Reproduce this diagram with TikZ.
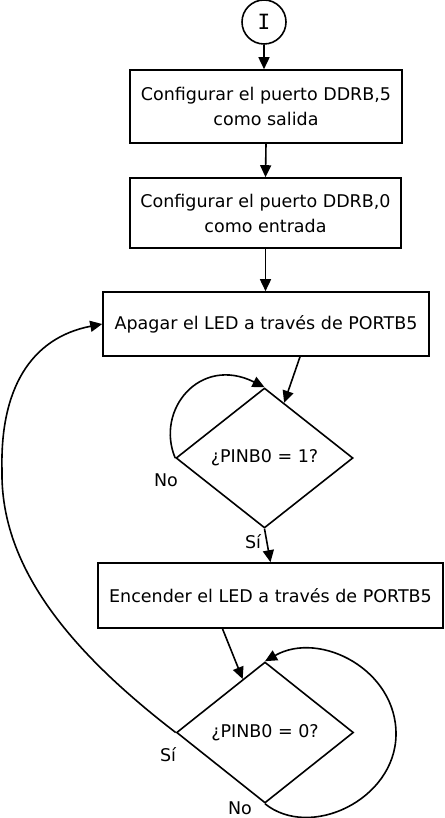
\documentclass[tikz,border=0pt]{standalone}
\usepackage{fontspec}
\setmainfont{DejaVu Sans}
\newfontfamily\startfont{DejaVu Sans Mono}
\usetikzlibrary{shapes.geometric,arrows.meta,calc}
\begin{document}
\begin{tikzpicture}[x=1pt,y=-1pt,
  every node/.style={font=\fontsize{17.5}{25}\selectfont},
  box/.style={draw, line width=1.6pt, align=center, inner sep=0pt},
  dec/.style={draw, diamond, line width=1.6pt, inner sep=0pt, minimum width=177pt, minimum height=140pt},
  arr/.style={line width=1.6pt, -{Triangle[length=12pt,width=11pt]}},
  lbl/.style={inner sep=0pt}]
\useasboundingbox (0,0) rectangle (444,818);
\node[draw, circle, line width=1.6pt, minimum size=44pt, inner sep=0pt, font=\startfont\fontsize{21}{21}\selectfont] (I) at (264,22) {I};
\node[box, minimum width=272pt, minimum height=73pt] (b1) at (266,106.5) {Configurar el puerto DDRB,5\\como salida};
\node[box, minimum width=271pt, minimum height=70pt] (b2) at (265.5,213) {Configurar el puerto DDRB,0\\como entrada};
\node[box, minimum width=326pt, minimum height=64pt] (b3) at (266,324) {Apagar el LED a través de PORTB5};
\node[dec] (d1) at (264.5,458) {¿PINB0 = 1?};
\node[box, minimum width=345pt, minimum height=65pt] (b4) at (270.5,595.5) {Encender el LED a través de PORTB5};
\node[dec, minimum height=141pt] (d2) at (265,732.5) {¿PINB0 = 0?};
\node[lbl] (n1) at (166,480) {No};
\node[lbl] (s1) at (253,542) {Sí};
\node[lbl] (s2) at (168,755) {Sí};
\node[lbl] (n2) at (240,808) {No};
\draw[arr] (I.south) -- (I.south |- b1.north);
\draw[arr] (b1.south) -- (b2.north);
\draw[arr] (b2.south) -- (b2.south |- b3.north);
\draw[arr] ([xshift=34pt]b3.south) -- ($(d1.north)!0.22!(d1.east)$);
\draw[arr] (d1.west) .. controls (155,410) and (200,355) .. (d1.north);
\draw[arr] (d1.south) -- (b4.north);
\draw[arr] ([xshift=-48pt]b4.south) -- ($(d2.north)!0.25!(d2.west)$);
\draw[arr] (d2.south) .. controls (310,840) and (395,800) .. (396,735) .. controls (397,670) and (320,630) .. (d2.north);
\draw[arr] (d2.west) .. controls (75,655) and (0,570) .. (2,470) .. controls (0,390) and (30,338) .. (b3.west);
\end{tikzpicture}
\end{document}
